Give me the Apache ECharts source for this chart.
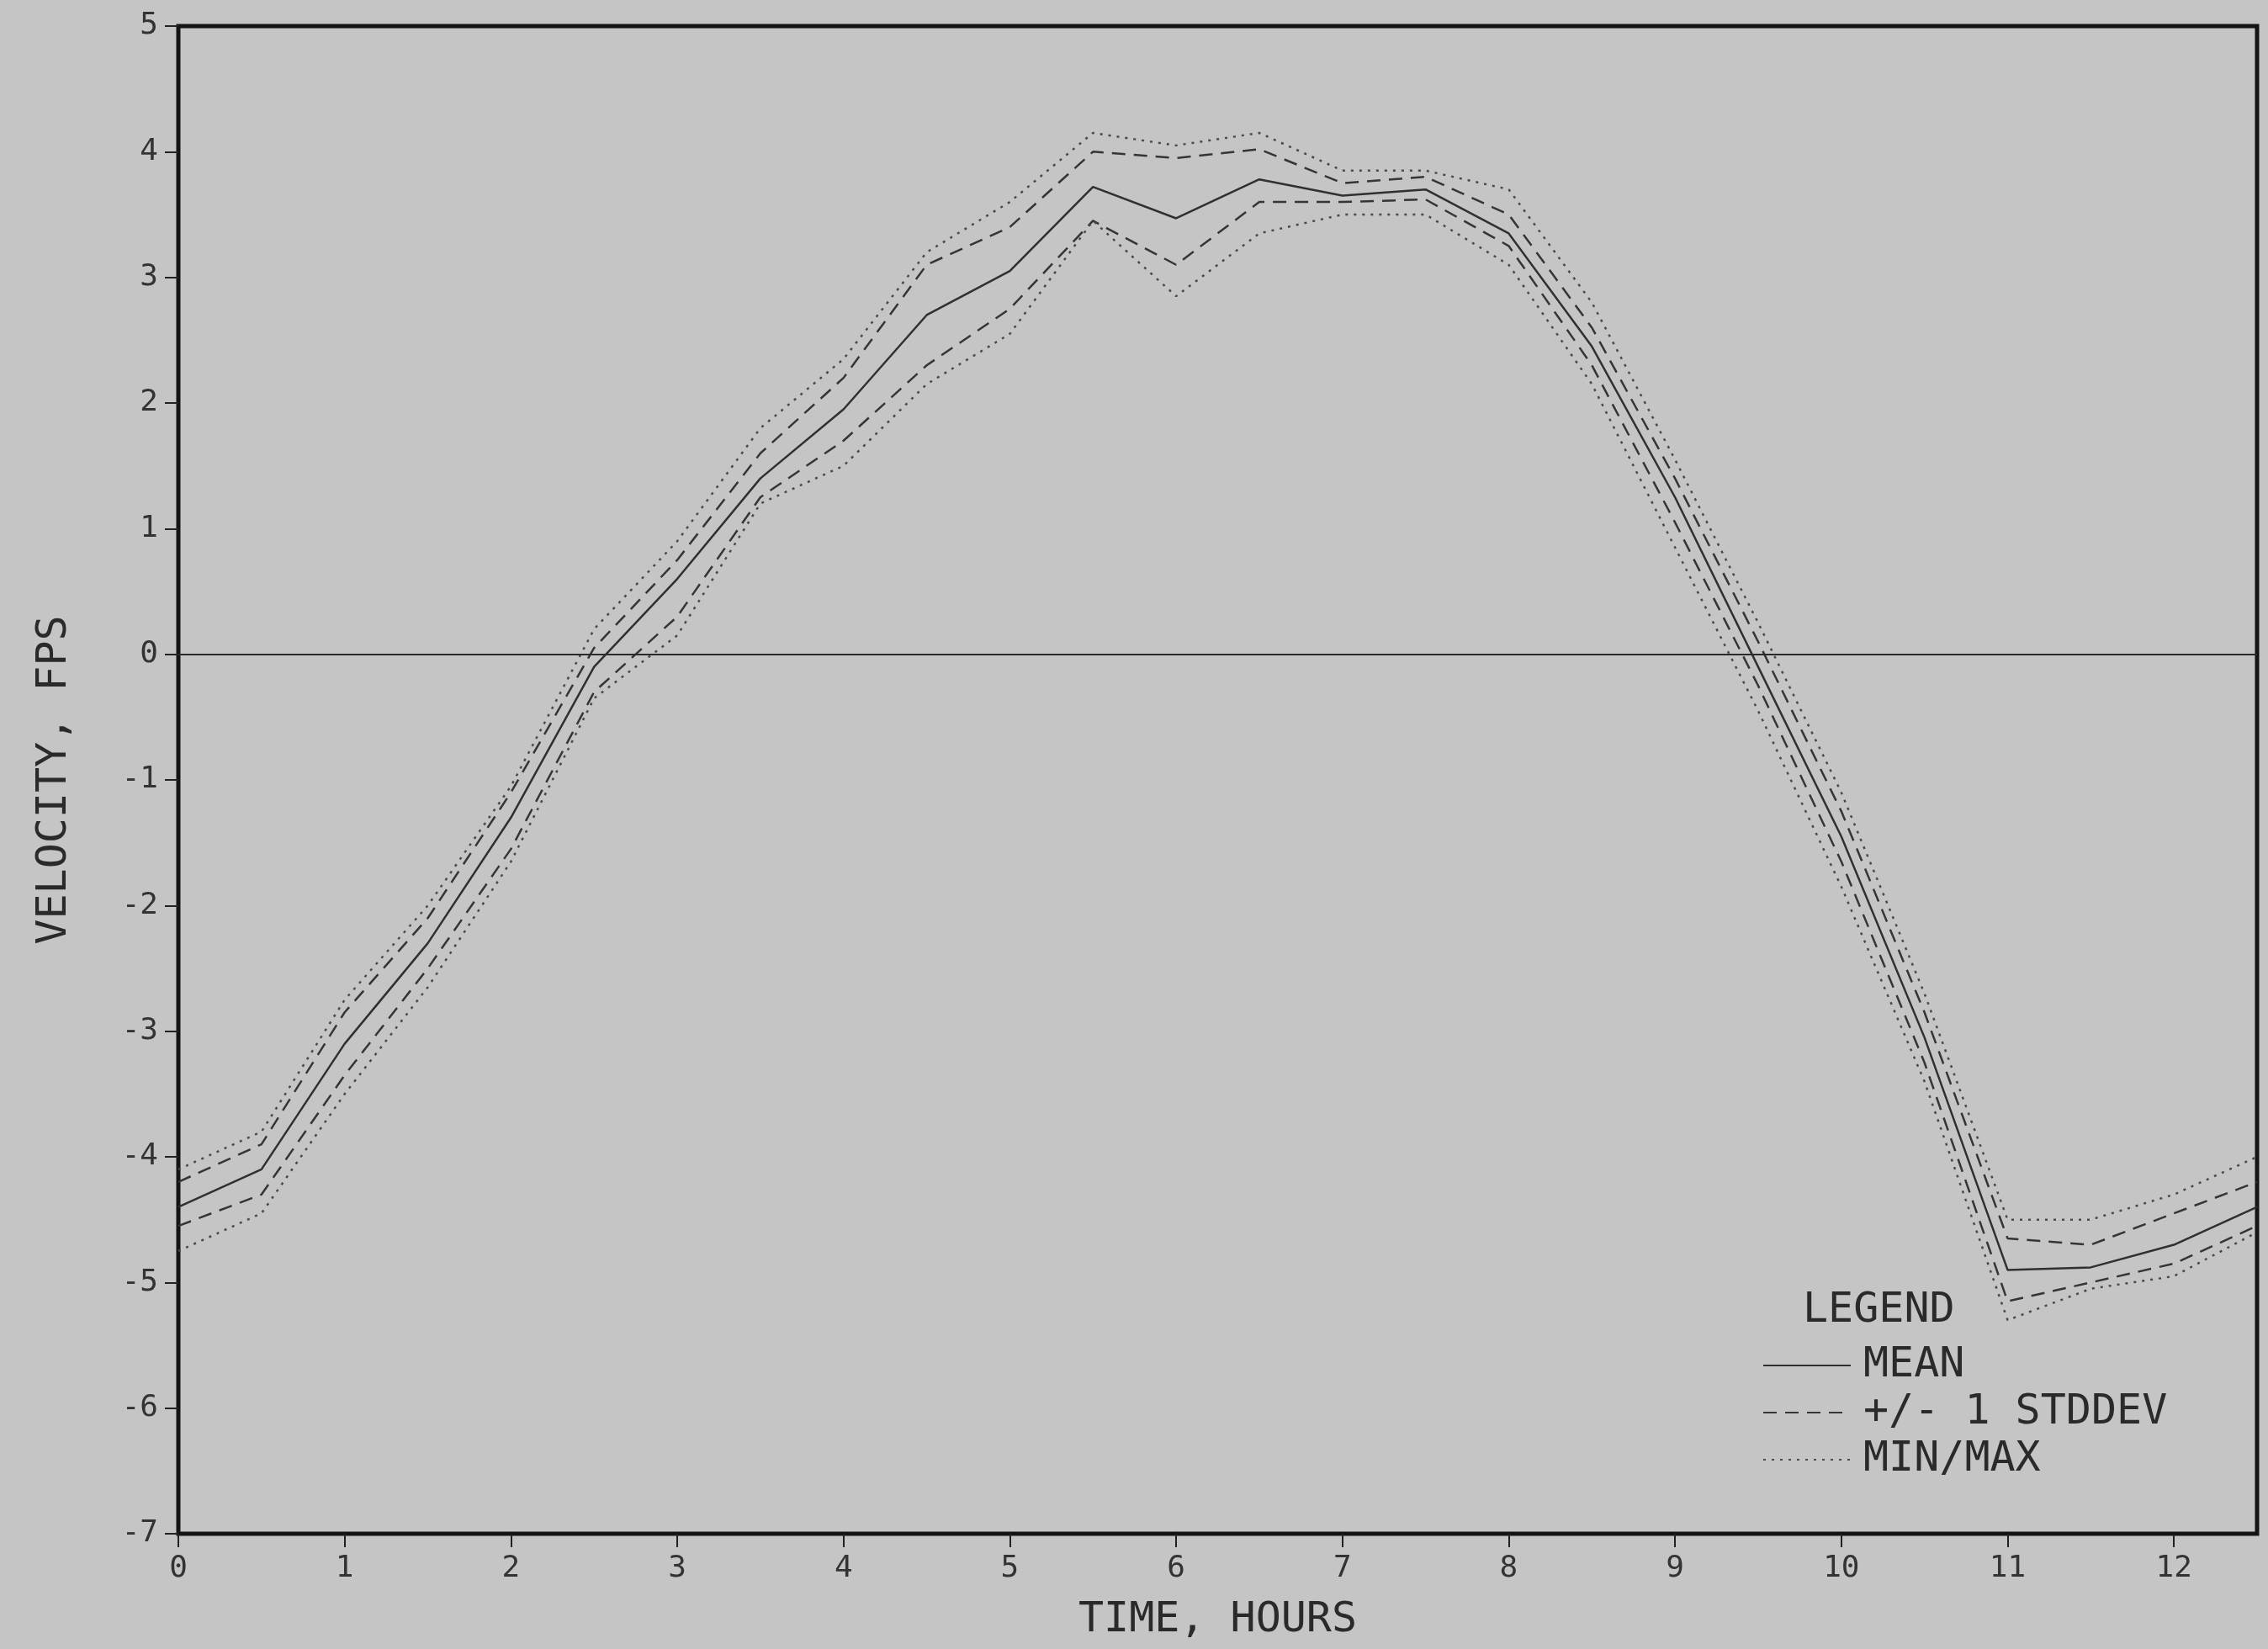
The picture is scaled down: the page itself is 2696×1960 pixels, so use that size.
<!DOCTYPE html>
<html>
<head>
<meta charset="utf-8">
<script src="https://cdn.jsdelivr.net/npm/echarts@6/dist/echarts.min.js"></script>
<style>
html,body{margin:0;padding:0;background:#c5c5c5;}
#chart{width:2696px;height:1960px;}
</style>
</head>
<body>
<div id="chart"></div>
<script>
const hours = [0,0.5,1,1.5,2,2.5,3,3.5,4,4.5,5,5.5,6,6.5,7,7.5,8,8.5,9,9.5,10,10.5,11,11.5,12,12.5];
const meanVals  = [-4.4,-4.1,-3.1,-2.3,-1.3,-0.1,0.6,1.4,1.95,2.7,3.05,3.72,3.47,3.78,3.65,3.7,3.35,2.45,1.25,-0.1,-1.45,-3.05,-4.9,-4.88,-4.7,-4.4];
const sdUpper   = [-4.2,-3.9,-2.85,-2.1,-1.1,0.05,0.75,1.6,2.2,3.1,3.4,4.0,3.95,4.02,3.75,3.8,3.5,2.6,1.4,0.1,-1.25,-2.85,-4.65,-4.7,-4.45,-4.2];
const sdLower   = [-4.55,-4.3,-3.35,-2.5,-1.55,-0.3,0.3,1.25,1.7,2.3,2.75,3.45,3.1,3.6,3.6,3.62,3.25,2.3,1.05,-0.25,-1.65,-3.25,-5.15,-5.0,-4.85,-4.55];
const maxVals   = [-4.1,-3.8,-2.75,-2.0,-1.05,0.2,0.9,1.8,2.35,3.2,3.6,4.15,4.05,4.15,3.85,3.85,3.7,2.8,1.55,0.25,-1.1,-2.7,-4.5,-4.5,-4.3,-4.0];
const minVals   = [-4.75,-4.45,-3.5,-2.65,-1.65,-0.35,0.15,1.2,1.5,2.15,2.55,3.45,2.85,3.35,3.5,3.5,3.1,2.15,0.85,-0.45,-1.85,-3.4,-5.3,-5.05,-4.95,-4.6];
const xTicks = [0,1,2,3,4,5,6,7,8,9,10,11,12];
const yTicks = [-7,-6,-5,-4,-3,-2,-1,0,1,2,3,4,5];
const legendNames = ['MEAN','+/- 1 STDDEV','MIN/MAX'];

function pairs(vals){ return hours.map((h,i)=>[h, vals[i]]); }

const FONT = 'DejaVu Sans Mono';
const chart = echarts.init(document.getElementById('chart'));
const lineBase = {type:'line', showSymbol:false, symbol:'none', smooth:false, silent:true, animation:false};

chart.setOption({
  backgroundColor:'#c5c5c5',
  animation:false,
  title:{text:'LEGEND', left:2138, top:1528, textStyle:{fontFamily:FONT, fontSize:50, fontWeight:'normal', color:'#2a2a2a'}},
  legend:{
    data:legendNames, orient:'vertical', left:2090, top:1592,
    itemWidth:104, itemHeight:16, itemGap:4,
    itemStyle:{opacity:0},
    textStyle:{fontFamily:FONT, fontSize:50, color:'#2a2a2a', lineHeight:52, padding:[0,0,0,10]},
    selectedMode:false
  },
  grid:{left:212, top:31, right:13, bottom:137, show:true, borderColor:'#141414', borderWidth:5, backgroundColor:'transparent'},
  xAxis:{
    type:'value', min:0, max:12.5, interval:1,
    name:'TIME, HOURS', nameLocation:'middle', nameGap:78,
    nameTextStyle:{fontFamily:FONT, fontSize:50, color:'#2a2a2a'},
    axisLine:{show:false, onZero:false},
    axisTick:{show:true, length:16, lineStyle:{color:'#222', width:2}},
    axisLabel:{fontFamily:FONT, fontSize:36, color:'#333', margin:24, showMaxLabel:false,
      formatter:v=> xTicks.includes(v)? String(v): ''},
    splitLine:{show:false}
  },
  yAxis:{
    type:'value', min:-7, max:5, interval:1,
    name:'VELOCITY, FPS', nameLocation:'middle', nameGap:122, nameRotate:90,
    nameTextStyle:{fontFamily:FONT, fontSize:50, color:'#2a2a2a'},
    axisLine:{show:false, onZero:false},
    axisTick:{show:true, length:16, lineStyle:{color:'#222', width:2}},
    axisLabel:{fontFamily:FONT, fontSize:36, color:'#333', margin:24,
      formatter:v=> yTicks.includes(v)? String(v): ''},
    splitLine:{show:false}
  },
  series:[
    Object.assign({}, lineBase, {name:'MEAN', data:pairs(meanVals), z:5,
      lineStyle:{color:'#303030', width:2.5, type:'solid'}, itemStyle:{color:'#303030'},
      markLine:{silent:true, symbol:'none', label:{show:false},
        lineStyle:{color:'#2a2a2a', width:2, type:'solid'}, data:[{yAxis:0}]}}),
    Object.assign({}, lineBase, {name:'+/- 1 STDDEV', data:pairs(sdUpper),
      lineStyle:{color:'#353535', width:2.5, type:[16,10]}, itemStyle:{color:'#353535'}}),
    Object.assign({}, lineBase, {name:'+/- 1 STDDEV', data:pairs(sdLower),
      lineStyle:{color:'#353535', width:2.5, type:[16,10]}, itemStyle:{color:'#353535'}}),
    Object.assign({}, lineBase, {name:'MIN/MAX', data:pairs(maxVals),
      lineStyle:{color:'#4a4a4a', width:2.5, type:[3,7]}, itemStyle:{color:'#4a4a4a'}}),
    Object.assign({}, lineBase, {name:'MIN/MAX', data:pairs(minVals),
      lineStyle:{color:'#4a4a4a', width:2.5, type:[3,7]}, itemStyle:{color:'#4a4a4a'}})
  ]
});
</script>
</body>
</html>
